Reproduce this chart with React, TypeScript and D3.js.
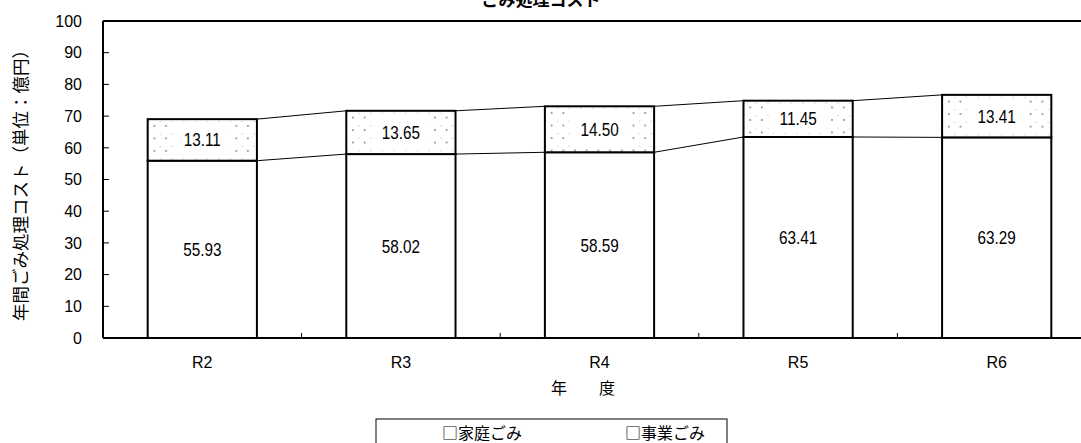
import React from "react";
import * as d3 from "d3";

const categories = ["R2", "R3", "R4", "R5", "R6"];
const household = [55.93, 58.02, 58.59, 63.41, 63.29];
const business = [13.11, 13.65, 14.5, 11.45, 13.41];
const yTicks = [0, 10, 20, 30, 40, 50, 60, 70, 80, 90, 100];
const legendItems = ["家庭ごみ", "事業ごみ"];

const W = 1081;
const H = 443;
const FONT = "'Liberation Sans', Arial, 'Noto Sans CJK JP', sans-serif";
const JFONT = "'Noto Sans CJK JP', 'Liberation Sans', sans-serif";

function Label({ x, y, text }: { x: number; y: number; text: string }) {
  return (
    <g transform={`translate(${x}, ${y}) scale(0.85, 1)`}>
      <text x={0} y={0} dy="0.36em" textAnchor="middle" fontFamily={FONT} fontSize={18} fill="#000">
        {text}
      </text>
    </g>
  );
}

export default function App() {
  const left = 103;
  const right = 1096;
  const top = 21;
  const bottom = 338;
  const x = d3.scaleBand<string>().domain(categories).range([left, right]).paddingInner(0.45).paddingOuter(0.225);
  const y = d3.scaleLinear().domain([0, 100]).range([bottom, top]);
  const bw = x.bandwidth();
  const step = x.step();
  const totals = household.map((h, i) => h + business[i]);

  return (
    <svg width={W} height={H} style={{ position: "absolute", left: 0, top: 0, background: "#fff" }}>
      <defs>
        {categories.map((c, i) => (
          <pattern key={c} id={"dots" + i} x={x(c) as number} y={y(totals[i])} width={11.7} height={12.5} patternUnits="userSpaceOnUse">
            <rect width={11.7} height={12.5} fill="#fff" />
            <circle cx={6.7} cy={6.7} r={0.8} fill="#333" />
            <circle cx={1} cy={2.5} r={0.5} fill="#999" />
          </pattern>
        ))}
      </defs>
      {/* title (clipped at top) */}
      <text x={541} y={6} textAnchor="middle" fontFamily={JFONT} fontWeight="bold" fontSize={17} fill="#000">
        ごみ処理コスト
      </text>

      {/* frame */}
      <line x1={left} x2={W} y1={top} y2={top} stroke="#000" strokeWidth={2} />
      <line x1={left} x2={left} y1={top} y2={bottom} stroke="#000" strokeWidth={2} />

      {/* y ticks */}
      {yTicks.map((t) => (
        <g key={t}>
          <line x1={left} x2={left + 6} y1={y(t)} y2={y(t)} stroke="#000" strokeWidth={1} />
          <text x={82} y={y(t)} dy="0.36em" textAnchor="end" fontFamily={FONT} fontSize={16} fill="#000">
            {t}
          </text>
        </g>
      ))}

      {/* x tick marks between categories */}
      {categories.slice(1).map((c) => (
        <line key={c} x1={(x(c) as number) - (step - bw) / 2} x2={(x(c) as number) - (step - bw) / 2} y1={bottom} y2={bottom - 5} stroke="#000" strokeWidth={1} />
      ))}

      {/* connecting lines */}
      {categories.slice(0, -1).map((c, i) => {
        const x1 = (x(c) as number) + bw;
        const x2 = x(categories[i + 1]) as number;
        return (
          <g key={"l" + c}>
            <line x1={x1} x2={x2} y1={y(household[i])} y2={y(household[i + 1])} stroke="#000" strokeWidth={1} />
            <line x1={x1} x2={x2} y1={y(totals[i])} y2={y(totals[i + 1])} stroke="#000" strokeWidth={1} />
          </g>
        );
      })}

      {/* bars */}
      {categories.map((c, i) => {
        const x0 = x(c) as number;
        const cx = x0 + bw / 2;
        const hTop = y(household[i]);
        const tTop = y(totals[i]);
        return (
          <g key={c}>
            <rect x={x0} y={hTop} width={bw} height={bottom - hTop} fill="#fff" stroke="#000" strokeWidth={2} />
            <rect x={x0} y={tTop} width={bw} height={hTop - tTop} fill={`url(#dots${i})`} stroke="#000" strokeWidth={2} />
            <rect x={cx - 29} y={tTop + 4} width={58} height={hTop - tTop - 8} fill="#fff" />
            <Label x={cx} y={(tTop + hTop) / 2} text={business[i].toFixed(2)} />
            <Label x={cx} y={(hTop + bottom) / 2} text={household[i].toFixed(2)} />
            <text x={cx} y={362} dy="0.36em" textAnchor="middle" fontFamily={FONT} fontSize={16} fill="#000">
              {c}
            </text>
          </g>
        );
      })}

      {/* x axis line */}
      <line x1={left} x2={W} y1={bottom} y2={bottom} stroke="#000" strokeWidth={2} />

      {/* axis titles */}
      <text x={583} y={388} dy="0.36em" textAnchor="middle" fontFamily={JFONT} fontSize={16} fill="#000">
        年　　度
      </text>
      <text transform={`translate(21, 181) rotate(-90)`} dy="0.36em" textAnchor="middle" fontFamily={JFONT} fontSize={17.5} fill="#000">
        年間ごみ処理コスト（単位：億円）
      </text>

      {/* legend */}
      <rect x={376} y={419} width={351} height={40} fill="#fff" stroke="#000" strokeWidth={1} />
      {legendItems.map((item, i) => (
        <text key={item} x={442 + i * 183} y={433} dy="0.36em" fontFamily={JFONT} fontSize={16} fill="#000">
          {"□" + item}
        </text>
      ))}
    </svg>
  );
}
